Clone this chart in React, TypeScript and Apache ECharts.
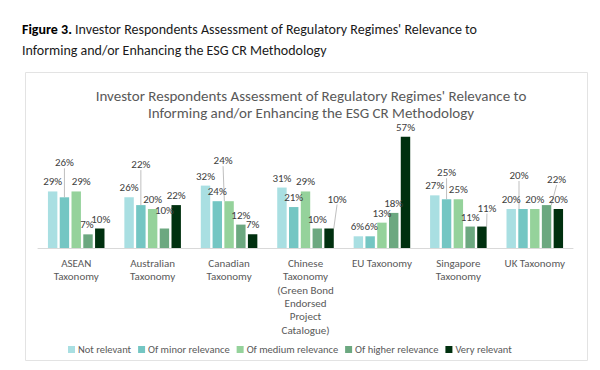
import React, { useEffect, useRef } from "react";
import * as echarts from "echarts";

const categories = [
  "ASEAN\nTaxonomy",
  "Australian\nTaxonomy",
  "Canadian\nTaxonomy",
  "Chinese\nTaxonomy\n(Green Bond\nEndorsed\nProject\nCatalogue)",
  "EU Taxonomy",
  "Singapore\nTaxonomy",
  "UK Taxonomy",
];
const seriesNames = [
  "Not relevant",
  "Of minor relevance",
  "Of medium relevance",
  "Of higher relevance",
  "Very relevant",
];
const notRelevant = [29, 26, 32, 31, 6, 27, 20];
const minorRelevance = [26, 22, 24, 21, 6, 25, 20];
const mediumRelevance = [29, 20, 24, 29, 13, 25, 20];
const higherRelevance = [7, 10, 12, 10, 18, 11, 22];
const veryRelevant = [10, 22, 7, 10, 57, 11, 20];
const seriesValues = [notRelevant, minorRelevance, mediumRelevance, higherRelevance, veryRelevant];
const colors = ["#a9dfe2", "#74c6c3", "#95d29b", "#6ca880", "#00300f"];

// label displacement [seriesIndex][dataIndex] -> [dx, dy, showLine]
const labelMoves: Record<string, [number, number, boolean]> = {
  "1-0": [0, -25, true],
  "1-1": [0, -31, true],
  "2-0": [5, 0, false],
  "3-0": [-1, 0, false],
  "4-0": [1, 0, false],
  "3-1": [0, -9, false],
  "2-2": [-6, -31, true],
  "4-3": [8, -20, true],
  "0-4": [-1, 0, false],
  "1-4": [1, 0, false],
  "1-5": [0, -17, true],
  "4-5": [5, -9, true],
  "1-6": [-4, -24, true],
  "3-6": [10, -16, true],
};

const FONT = "Carlito, Calibri, Lato, 'Open Sans', sans-serif";

export default function App() {
  const ref = useRef<HTMLDivElement>(null);
  useEffect(() => {
    if (!ref.current) return;
    const chart = echarts.init(ref.current, undefined, { renderer: "svg" });
    const series = seriesNames.map((name, si) => ({
      name,
      type: "bar",
      barGap: "25%",
      barCategoryGap: "26%",
      itemStyle: { color: colors[si] },
      data: seriesValues[si].map((v, di) => {
        const mv = labelMoves[`${si}-${di}`];
        const item: any = { value: v };
        if (mv && mv[2]) {
          item.labelLine = { show: true, lineStyle: { color: "#bfbfbf", width: 1 } };
        }
        return item;
      }),
      label: {
        show: true,
        position: "top",
        distance: 4,
        formatter: "{c}%",
        color: "#404040",
        fontSize: 11,
        fontFamily: FONT,
      },
      labelLine: { show: false, lineStyle: { color: "#bfbfbf", width: 1 } },
      labelLayout: (p: any) => {
        const mv = labelMoves[`${p.seriesIndex}-${p.dataIndex}`];
        if (!mv) return {};
        return { dx: mv[0], dy: mv[1] };
      },
    }));
    chart.setOption({
      animation: false,
      backgroundColor: "#ffffff",
      textStyle: { fontFamily: FONT },
      title: [
        {
          text: "{b|Figure 3.} Investor Respondents Assessment of Regulatory Regimes' Relevance to\nInforming and/or Enhancing the ESG CR Methodology",
          left: 17,
          top: 14,
          textStyle: {
            fontSize: 14,
            fontWeight: "normal",
            color: "#1a1a1a",
            lineHeight: 21,
            fontFamily: FONT,
            rich: { b: { fontWeight: "bold", fontSize: 14, color: "#000", fontFamily: FONT } },
          },
        },
        {
          text: "Investor Respondents Assessment of Regulatory Regimes' Relevance to\nInforming and/or Enhancing the ESG CR Methodology",
          left: 306,
          textAlign: "center",
          top: 82,
          textStyle: {
            fontSize: 15,
            fontWeight: "normal",
            color: "#595959",
            lineHeight: 17.5,
            fontFamily: FONT,
          },
        },
      ],
      graphic: [
        {
          type: "rect",
          shape: { x: 25.5, y: 72.5, width: 562, height: 288 },
          style: { fill: "none", stroke: "#e3e3e3", lineWidth: 1 },
          silent: true,
        },
      ],
      legend: {
        left: 63,
        top: 339,
        itemWidth: 7,
        itemHeight: 7,
        itemGap: 7,
        icon: "rect",
        textStyle: { color: "#595959", fontSize: 10.5, fontFamily: FONT, padding: [0, 0, 0, -2] },
        data: seriesNames,
      },
      grid: { left: 38, right: 27, top: 131, bottom: 122, containLabel: false },
      xAxis: {
        type: "category",
        data: categories,
        axisLine: { lineStyle: { color: "#d9d9d9" } },
        axisTick: { show: false },
        axisLabel: {
          color: "#595959",
          fontSize: 11,
          lineHeight: 13.3,
          margin: 9,
          interval: 0,
          fontFamily: FONT,
        },
      },
      yAxis: {
        type: "value",
        min: 0,
        max: 60,
        show: false,
        splitLine: { show: false },
      },
      series,
    });
    return () => chart.dispose();
  }, []);
  return (
    <div
      ref={ref}
      style={{ position: "absolute", left: 0, top: 0, width: 600, height: 370 }}
    />
  );
}
